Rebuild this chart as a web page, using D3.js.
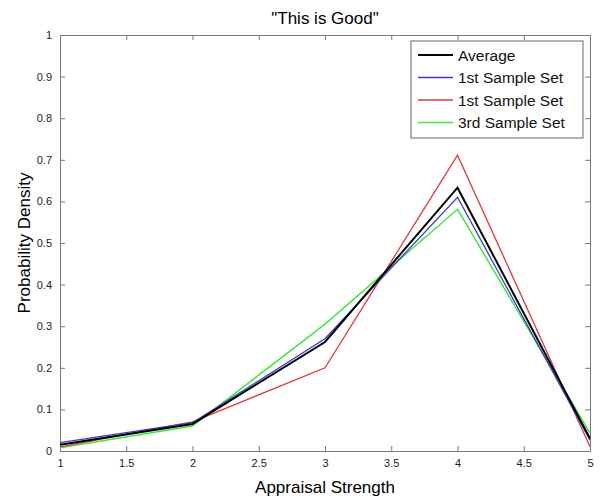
<!DOCTYPE html>
<html>
<head>
<meta charset="utf-8">
<script src="https://cdn.jsdelivr.net/npm/d3@7"></script>
<style>
  body { margin: 0; background: #fff; }
  svg { font-family: "Liberation Sans", Arial, sans-serif; }
</style>
</head>
<body>
<svg id="chart"></svg>
<script>
var strength = [1, 2, 3, 4, 5];
var average = [0.015, 0.065, 0.262, 0.633, 0.03];
var sample1 = [0.02, 0.068, 0.27, 0.61, 0.026];
var sample1b = [0.01, 0.07, 0.2, 0.711, 0.01];
var sample3 = [0.008, 0.06, 0.305, 0.581, 0.043];
var seriesNames = ["Average", "1st Sample Set", "1st Sample Set", "3rd Sample Set"];
var xTicks = [1, 1.5, 2, 2.5, 3, 3.5, 4, 4.5, 5];
var yTicks = [0, 0.1, 0.2, 0.3, 0.4, 0.5, 0.6, 0.7, 0.8, 0.9, 1];

var w = 602, h = 498;
var pLeft = 60, pRight = 590, pTop = 35, pBottom = 451;
var svg = d3.select("#chart").attr("width", w).attr("height", h);

var x = d3.scaleLinear().domain([1, 5]).range([pLeft, pRight]);
var y = d3.scaleLinear().domain([0, 1]).range([pBottom, pTop]);

var fmt = function(d){ return String(d); };

// axes with inward ticks on all 4 sides
var axB = svg.append("g").attr("transform", `translate(0,${pBottom})`)
  .call(d3.axisBottom(x).tickValues(xTicks).tickFormat(fmt).tickSizeInner(-5).tickSizeOuter(0).tickPadding(8));
var axT = svg.append("g").attr("transform", `translate(0,${pTop})`)
  .call(d3.axisTop(x).tickValues(xTicks).tickFormat("").tickSizeInner(-5).tickSizeOuter(0));
var axL = svg.append("g").attr("transform", `translate(${pLeft},0)`)
  .call(d3.axisLeft(y).tickValues(yTicks).tickFormat(fmt).tickSizeInner(-5).tickSizeOuter(0).tickPadding(8));
var axR = svg.append("g").attr("transform", `translate(${pRight},0)`)
  .call(d3.axisRight(y).tickValues(yTicks).tickFormat("").tickSizeInner(-5).tickSizeOuter(0));

[axB, axT, axL, axR].forEach(function(a){
  a.selectAll("path").attr("stroke", "#777").attr("stroke-width", 1);
  a.selectAll("line").attr("stroke", "#777");
  a.selectAll("text").attr("fill", "#222").style("font-size", "11px").style("font-family", "Liberation Sans, Arial, sans-serif");
});

var colors = ["#000000", "#3a3ad0", "#e03a3a", "#3ee83e"];
var widths = [2, 1.3, 1.3, 1.5];
var allSeries = [average, sample1, sample1b, sample3];

var line = d3.line()
  .x(function(d, i){ return x(strength[i]); })
  .y(function(d){ return y(d); });

// draw order: green, red, blue, black on top
[3, 2, 1, 0].forEach(function(k){
  svg.append("path")
    .datum(allSeries[k])
    .attr("d", line)
    .attr("fill", "none")
    .attr("stroke", colors[k])
    .attr("stroke-width", widths[k])
    .attr("stroke-linejoin", "miter");
});

// legend
var lg = svg.append("g").attr("transform", "translate(411,41)");
lg.append("rect").attr("width", 172).attr("height", 97)
  .attr("fill", "#fff").attr("stroke", "#666").attr("stroke-width", 1);
seriesNames.forEach(function(name, i){
  var yy = 14 + i * 22.5;
  lg.append("line").attr("x1", 7).attr("x2", 42).attr("y1", yy).attr("y2", yy)
    .attr("stroke", colors[i]).attr("stroke-width", widths[i]);
  lg.append("text").attr("x", 47).attr("y", yy + 5.5).text(name)
    .style("font-size", "15.5px").attr("fill", "#111");
});

// title and labels
svg.append("text").attr("x", (pLeft + pRight) / 2).attr("y", 24)
  .attr("text-anchor", "middle").style("font-size", "17px").text('"This is Good"');
svg.append("text").attr("x", (pLeft + pRight) / 2).attr("y", 493)
  .attr("text-anchor", "middle").style("font-size", "17px").text("Appraisal Strength");
svg.append("text").attr("transform", `translate(30,${(pTop + pBottom) / 2}) rotate(-90)`)
  .attr("text-anchor", "middle").style("font-size", "17px").text("Probability Density");
</script>
</body>
</html>
